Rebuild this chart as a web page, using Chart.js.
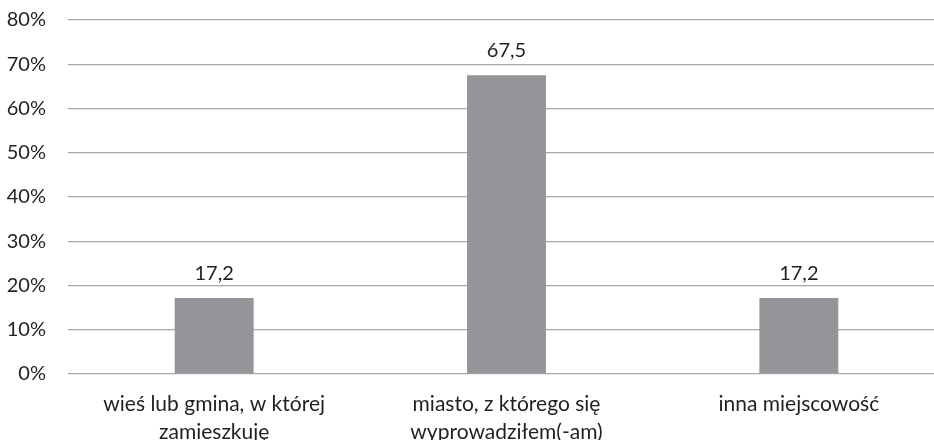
<!DOCTYPE html>
<html>
<head>
<meta charset="utf-8">
<script src="https://cdn.jsdelivr.net/npm/chart.js@4"></script>
<style>
  html, body { margin: 0; padding: 0; background: #fff; overflow: hidden; }
  #wrap { position: absolute; left: 0; top: 0; width: 960px; height: 440px; }
</style>
</head>
<body>
<div id="wrap"><canvas id="chart"></canvas></div>
<script>
// dane z wykresu
const categories = [
    ['wieś lub gmina, w której', 'zamieszkuję'],
    ['miasto, z którego się', 'wyprowadziłem(-am)'],
    ['inna miejscowość']
];
const values = [17.2, 67.5, 17.2];
const yTicks = [0, 10, 20, 30, 40, 50, 60, 70, 80];

const textColor = '#231f20';
const fontFamily = 'Lato, "Open Sans", sans-serif';

// etykiety wartości nad słupkami
const valueLabels = {
    id: 'valueLabels',
    afterDatasetsDraw(chart) {
        const ctx = chart.ctx;
        const meta = chart.getDatasetMeta(0);
        ctx.save();
        ctx.font = '20px ' + fontFamily;
        ctx.fillStyle = textColor;
        ctx.textAlign = 'center';
        ctx.textBaseline = 'alphabetic';
        meta.data.forEach((bar, i) => {
            const txt = values[i].toFixed(1).replace('.', ',');
            ctx.fillText(txt, bar.x, bar.y - 18);
        });
        ctx.restore();
    }
};

new Chart(document.getElementById('chart').getContext('2d'), {
    type: 'bar',
    data: {
        labels: categories,
        datasets: [{
            data: values,
            backgroundColor: '#939598',
            borderWidth: 0,
            barPercentage: 0.27,
            categoryPercentage: 1
        }]
    },
    options: {
        responsive: true,
        maintainAspectRatio: false,
        animation: false,
        layout: { padding: { top: 20, right: 15, left: 0, bottom: 0 } },
        plugins: {
            legend: { display: false },
            tooltip: { enabled: false }
        },
        scales: {
            x: {
                grid: { display: false },
                border: { display: false },
                ticks: {
                    color: textColor,
                    font: { family: fontFamily, size: 21, lineHeight: 1.33 },
                    padding: 8,
                    maxRotation: 0,
                    autoSkip: false
                },
                afterFit(scale) { scale.height = 66; }
            },
            y: {
                min: 0,
                max: 80,
                afterBuildTicks(scale) { scale.ticks = yTicks.map(v => ({ value: v })); },
                grid: { color: '#a7a7a9', lineWidth: 1.3, drawTicks: false },
                border: { display: false },
                ticks: {
                    color: textColor,
                    font: { family: fontFamily, size: 20 },
                    padding: 22,
                    callback: v => v + '%'
                },
                afterFit(scale) {
                    scale.width = 68;
                    scale.paddingTop = 0;
                    scale.paddingBottom = 0;
                }
            }
        }
    },
    plugins: [valueLabels]
});
</script>
</body>
</html>
